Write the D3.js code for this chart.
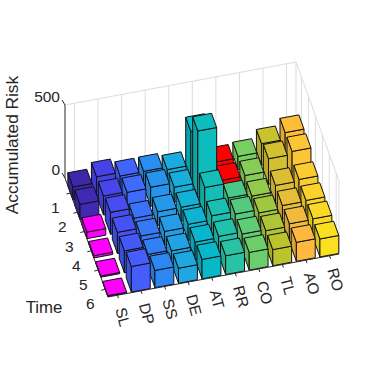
<!DOCTYPE html>
<html>
<head>
<meta charset="utf-8">
<script src="https://d3js.org/d3.v7.min.js"></script>
<style>
    html, body { margin: 0; background: #fff; }
    text { font-family: "Liberation Sans", Arial, sans-serif; fill: #262626; }
</style>
</head>
<body>
<svg id="chart" width="375" height="375"></svg>
<script>
// Chart data
let causes = ['SL', 'DP', 'SS', 'DE', 'AT', 'RR', 'CO', 'TL', 'AO', 'RO'];
let times = [1, 2, 3, 4, 5, 6];
let riskTicks = [0, 500];

// Accumulated risk of each cause at time 1..6
let riskSL = [90, 103, 45, 15, 8, 5];
let riskDP = [130, 130, 150, 145, 150, 175];
let riskSS = [105, 125, 80, 90, 96, 118];
let riskDE = [107, 130, 94, 91, 90, 103];
let riskAT = [89, 100, 95, 110, 120, 133];
let riskRR = [320, 455, 200, 138, 129, 128];
let riskCO = [79, 87, 98, 120, 115, 121];
let riskTL = [89, 90, 81, 98, 108, 110];
let riskAO = [146, 175, 124, 118, 125, 130];
let riskRO = [192, 195, 135, 123, 129, 123];
let risks = [riskSL, riskDP, riskSS, riskDE, riskAT, riskRR, riskCO, riskTL, riskAO, riskRO];

// Bars picked out from the colormap, as [cause index, time index]
let pinkBars = [[0, 2], [0, 3], [0, 4], [0, 5]];
let redBars = [[6, 0], [6, 1]];

// Colormap stops (parula)
let parulaStops = ['#3e26a8', '#4740e8', '#4362ff', '#2a8cf0', '#1eaae0', '#03bac6', '#2cc3a2', '#6fcf68', '#bfc32a', '#fdb83f', '#f9e021'];

let c = {
    barWidth: 0.8,
    barDepth: 0.74,
    corner: { x: 108, y: 297 },
    xLim: [0.6, 10.4],
    yLim: [0.22, 6.4],
    zLim: [0, 500]
};

// Each scale gives a screen offset [dx, dy] from the front left corner of the floor
let scales = {
    x: d3.scaleLinear().domain(c.xLim).range([[0, 0], [231, -43]]),
    y: d3.scaleLinear().domain(c.yLim).range([[-43, -119], [0, 0]]),
    z: d3.scaleLinear().domain(c.zLim).range([[0, 0], [0, -73]]),
    color: d3.scaleLinear()
        .domain(d3.range(parulaStops.length).map(i => i / (parulaStops.length - 1)))
        .range(parulaStops)
};

let svg = d3.select('#chart');
let line = d3.line();

/**
 * Project a point in data space to the screen
 */
function project(x, y, z) {
    let a = scales.x(x), b = scales.y(y), d = scales.z(z);
    return [c.corner.x + a[0] + b[0] + d[0], c.corner.y + a[1] + b[1] + d[1]];
}

function drawLine(p, q, color, width) {
    svg.append('path')
        .attr('d', line([p, q]))
        .attr('fill', 'none')
        .attr('stroke', color)
        .attr('stroke-width', width);
}

/**
 * The walls and the grid behind the bars
 */
function drawWalls() {
    let grid = '#dcdcdc';
    let [x0, x1] = c.xLim, [y0, y1] = c.yLim, [z0, z1] = c.zLim;
    drawLine(project(x0, y0, z1), project(x1, y0, z1), grid, 1);
    drawLine(project(x1, y0, z1), project(x1, y1, z1), grid, 1);
    causes.forEach((d, i) => drawLine(project(i + 1, y0, z0), project(i + 1, y0, z1), grid, 1));
    times.forEach(t => drawLine(project(x1, t, z0), project(x1, t, z1), grid, 1));
    drawLine(project(x1, y0, z0), project(x1, y0, z1), grid, 1);
    drawLine(project(x1, y1, z0), project(x1, y1, z1), grid, 1);
}

/**
 * Draw one bar: left, front and top faces
 */
function drawBar(col, row) {
    let x = col + 1, y = times[row], h = risks[col][row];
    let xa = x - c.barWidth / 2, xb = x + c.barWidth / 2;
    let ya = y - c.barDepth / 2, yb = y + c.barDepth / 2;
    let color = scales.color((col * times.length + row) / (causes.length * times.length - 1));
    if (pinkBars.some(b => b[0] === col && b[1] === row)) color = '#ff00ff';
    if (redBars.some(b => b[0] === col && b[1] === row)) color = '#ff0000';

    let faces = [
        [[xa, ya, 0], [xa, yb, 0], [xa, yb, h], [xa, ya, h]],
        [[xa, yb, 0], [xb, yb, 0], [xb, yb, h], [xa, yb, h]],
        [[xa, ya, h], [xa, yb, h], [xb, yb, h], [xb, ya, h]]
    ];
    faces.forEach((face, i) => {
        svg.append('path')
            .attr('d', line(face.map(p => project(p[0], p[1], p[2]))) + 'Z')
            .attr('fill', i === 0 ? d3.color(color).darker(0.35) : color)
            .attr('stroke', '#111')
            .attr('stroke-width', 1)
            .attr('stroke-linejoin', 'round');
    });
}

/**
 * Axis lines, ticks and labels, on top of the walls
 */
function drawAxes() {
    let axis = '#262626';
    let [x0, x1] = c.xLim, [y0, y1] = c.yLim, [z0, z1] = c.zLim;
    drawLine(project(x0, y0, z0), project(x0, y0, z1), axis, 1);
    drawLine(project(x0, y0, z0), project(x0, y1, z0), axis, 1);
    drawLine(project(x0, y1, z0), project(x1, y1, z0), axis, 1);

    causes.forEach((d, i) => {
        let p = project(i + 1, y1, z0);
        drawLine(p, [p[0] + 1, p[1] + 3], axis, 1);
        svg.append('text')
            .attr('transform', `translate(${p[0] + 3},${p[1] + 12.5}) rotate(75)`)
            .attr('font-size', 15.5)
            .attr('dy', '0.35em')
            .text(d);
    });

    times.forEach(t => {
        let p = project(x0, t, z0);
        drawLine(p, [p[0] - 4, p[1] + 1], axis, 1);
        svg.append('text')
            .attr('x', p[0] - 15)
            .attr('y', p[1] + 20)
            .attr('text-anchor', 'middle')
            .attr('font-size', 15.5)
            .text(t);
    });

    riskTicks.forEach(z => {
        let p = project(x0, y0, z);
        drawLine(p, [p[0] - 3, p[1] - 5], axis, 1);
        svg.append('text')
            .attr('x', p[0] - 5)
            .attr('y', p[1] - 3.5)
            .attr('text-anchor', 'end')
            .attr('font-size', 15.5)
            .text(z);
    });

    svg.append('text')
        .attr('transform', 'translate(18,145) rotate(-90)')
        .attr('text-anchor', 'middle')
        .attr('font-size', 17.3)
        .text('Accumulated Risk');
    svg.append('text')
        .attr('x', 44)
        .attr('y', 313)
        .attr('text-anchor', 'middle')
        .attr('font-size', 16.8)
        .text('Time');
}

drawWalls();
// Far rows first, and right to left since we look from the left side
times.forEach((t, row) => {
    d3.range(causes.length - 1, -1, -1).forEach(col => drawBar(col, row));
});
drawAxes();
</script>
</body>
</html>
